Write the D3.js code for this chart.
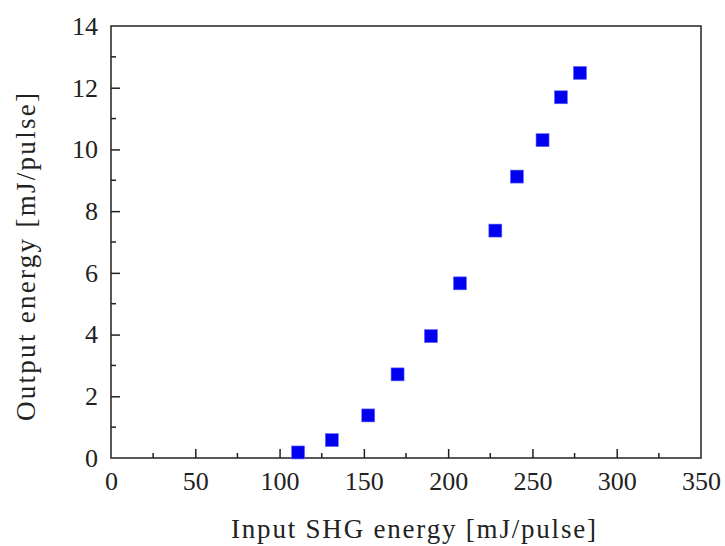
<!DOCTYPE html>
<html>
<head>
<meta charset="utf-8">
<script src="https://cdn.jsdelivr.net/npm/d3@7"></script>
<style>
  body { margin: 0; background: #fff; }
</style>
</head>
<body>
<div id="chart"></div>
<script>
// Input SHG energy vs output energy
const inputEnergy = [111, 131, 152.6, 170, 189.8, 207, 228, 240.8, 256, 266.9, 278.2];
const outputEnergy = [0.18, 0.58, 1.38, 2.71, 3.95, 5.66, 7.37, 9.12, 10.3, 11.69, 12.48];
const xTicks = [0, 50, 100, 150, 200, 250, 300, 350];
const yTicks = [0, 2, 4, 6, 8, 10, 12, 14];

const W = 725, H = 546;
const margin = { top: 26, right: 24, bottom: 88, left: 111 };
const width = W - margin.left - margin.right;
const height = H - margin.top - margin.bottom;
const serif = "Liberation Serif";

const svg = d3.select("#chart").append("svg")
    .attr("width", W)
    .attr("height", H)
    .style("font-family", serif);

const g = svg.append("g")
    .attr("transform", `translate(${margin.left},${margin.top})`);

const x = d3.scaleLinear().domain([0, 350]).range([0, width]);
const y = d3.scaleLinear().domain([0, 14]).range([height, 0]);

// minor ticks (inside)
const xMinor = d3.range(25, 350, 50);
const yMinor = d3.range(1, 14, 2);

g.append("g").selectAll("line")
    .data(xMinor)
    .join("line")
    .attr("x1", d => x(d)).attr("x2", d => x(d))
    .attr("y1", height).attr("y2", height - 5)
    .attr("stroke", "#222").attr("stroke-width", 1.5);

g.append("g").selectAll("line")
    .data(yMinor)
    .join("line")
    .attr("y1", d => y(d)).attr("y2", d => y(d))
    .attr("x1", 0).attr("x2", 5)
    .attr("stroke", "#222").attr("stroke-width", 1.5);

// major axes
const xAxis = g.append("g")
    .attr("transform", `translate(0,${height})`)
    .call(d3.axisBottom(x).tickValues(xTicks).tickSizeInner(-9).tickSizeOuter(0).tickPadding(14));

const yAxis = g.append("g")
    .call(d3.axisLeft(y).tickValues(yTicks).tickSizeInner(-9).tickSizeOuter(0).tickPadding(13));

[xAxis, yAxis].forEach(a => {
    a.attr("font-family", null).attr("font-size", 26);
    a.select(".domain").remove();
    a.selectAll("line").attr("stroke", "#222").attr("stroke-width", 1.5);
    a.selectAll("text").attr("fill", "#222").style("font-family", serif);
});
// hide tick lines at the frame edges
xAxis.selectAll(".tick line").filter(d => d === 0 || d === 350).remove();
yAxis.selectAll(".tick line").filter(d => d === 0 || d === 14).remove();

// frame
g.append("rect")
    .attr("width", width).attr("height", height)
    .attr("fill", "none").attr("stroke", "#222").attr("stroke-width", 1.5);

// data points
const size = 13;
g.append("g").selectAll("rect")
    .data(inputEnergy.map((d, i) => [d, outputEnergy[i]]))
    .join("rect")
    .attr("x", d => x(d[0]) - size / 2)
    .attr("y", d => y(d[1]) - size / 2)
    .attr("width", size).attr("height", size)
    .attr("fill", "#0000f0")
    .attr("stroke", "#6a6aff").attr("stroke-width", 0.6);

// axis titles
svg.append("text")
    .attr("x", 231)
    .attr("y", 538)
    .attr("font-size", 27)
    .attr("fill", "#222")
    .attr("textLength", 365)
    .attr("lengthAdjust", "spacing")
    .text("Input SHG energy [mJ/pulse]");

svg.append("text")
    .attr("transform", "translate(35,421) rotate(-90)")
    .attr("font-size", 27)
    .attr("fill", "#222")
    .attr("textLength", 328)
    .attr("lengthAdjust", "spacing")
    .text("Output energy [mJ/pulse]");
</script>
</body>
</html>
